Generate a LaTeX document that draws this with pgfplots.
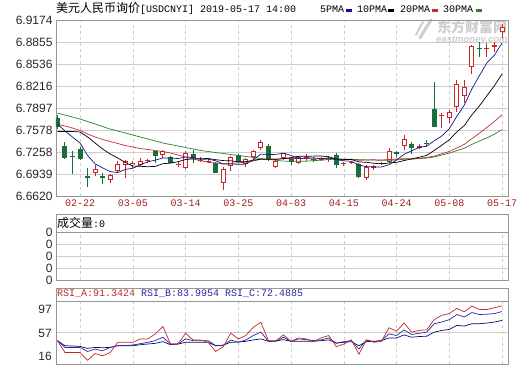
\documentclass[border=0pt]{standalone}
\usepackage{pgfplots}
\pgfplotsset{compat=1.18}
\usepackage{pgfplotstable}
\usepackage{fontspec}
\setmainfont{Liberation Sans}
\newfontfamily\cjk{Noto Sans CJK SC}
\newfontfamily\mono{Liberation Mono}
\definecolor{cred}{RGB}{200,40,40}
\definecolor{cgreen}{RGB}{25,110,60}
\definecolor{ma5}{RGB}{20,20,140}
\definecolor{ma20}{RGB}{190,50,50}
\definecolor{ma30}{RGB}{40,130,40}
\definecolor{datec}{RGB}{160,30,30}
\definecolor{gridc}{RGB}{205,205,205}
\definecolor{framec}{RGB}{150,150,150}
\definecolor{rsia}{RGB}{190,40,40}
\definecolor{rsib}{RGB}{40,40,160}
\definecolor{rsic}{RGB}{10,10,110}
\definecolor{wm}{RGB}{205,205,205}

\pgfplotstableread{
i o h l c
0 6.7752 6.7795 6.7592 6.7621
1 6.7346 6.7404 6.7157 6.7172
2 6.7203 6.7273 6.6939 6.7193
3 6.7302 6.7331 6.7142 6.7157
4 6.6903 6.7026 6.6751 6.6893
6 6.6906 6.6954 6.6794 6.6877
13 6.7269 6.7277 6.7099 6.7205
15 6.7182 6.7196 6.7099 6.7106
18 6.7230 6.7288 6.7095 6.7167
21 6.7103 6.7118 6.6949 6.6958
24 6.7215 6.7230 6.7109 6.7118
28 6.7346 6.7375 6.7132 6.7153
31 6.7167 6.7190 6.7070 6.7109
34 6.7157 6.7182 6.7109 6.7148
37 6.7215 6.7240 6.7022 6.7070
40 6.7080 6.7103 6.6877 6.6900
45 6.7253 6.7277 6.7190 6.7244
47 6.7370 6.7408 6.7225 6.7312
49 6.7389 6.7433 6.7335 6.7380
50 6.7878 6.8279 6.7617 6.7629
56 6.8768 6.8859 6.8641 6.8759
}\greentab

\pgfplotstableread{
i o h l c
5 6.6954 6.7066 6.6906 6.7016
7 6.6857 6.6939 6.6809 6.6929
8 6.6978 6.7124 6.6954 6.7084
9 6.7066 6.7147 6.6881 6.7124
10 6.7066 6.7124 6.7026 6.7099
11 6.7066 6.7172 6.7051 6.7132
14 6.7219 6.7292 6.7172 6.7277
17 6.7022 6.7277 6.7008 6.7248
22 6.6813 6.7045 6.6707 6.7008
23 6.7055 6.7201 6.6987 6.7182
25 6.7080 6.7167 6.7045 6.7153
26 6.7182 6.7288 6.7142 6.7277
27 6.7312 6.7433 6.7288 6.7408
29 6.7037 6.7153 6.7022 6.7128
30 6.7167 6.7248 6.7142 6.7240
32 6.7095 6.7201 6.7084 6.7190
36 6.7142 6.7201 6.7118 6.7176
41 6.6877 6.7070 6.6852 6.7045
44 6.7118 6.7317 6.7103 6.7277
46 6.7346 6.7505 6.7288 6.7447
52 6.7756 6.7868 6.7675 6.7835
53 6.7916 6.8303 6.7843 6.8245
54 6.8076 6.8303 6.7965 6.8197
55 6.8496 6.8811 6.8386 6.8801
59 6.9004 6.9112 6.8917 6.9077
}\redtab

\pgfplotstableread{
i o h l c
12 6.7134 6.7161 6.7099 6.7142
16 6.7076 6.7109 6.7045 6.7084
19 6.7138 6.7182 6.7109 6.7147
20 6.7124 6.7167 6.7095 6.7132
33 6.7177 6.7230 6.7132 6.7186
35 6.7153 6.7190 6.7132 6.7161
38 6.7090 6.7118 6.7055 6.7099
39 6.7105 6.7132 6.7084 6.7113
42 6.7041 6.7070 6.6997 6.7050
43 6.7090 6.7118 6.7070 6.7099
48 6.7331 6.7370 6.7302 6.7340
51 6.7787 6.7820 6.7602 6.7795
57 6.8759 6.8836 6.8641 6.8768
58 6.8797 6.8859 6.8714 6.8805
}\crosstab

\pgfplotstableread{
i m5 m10 m20 m30
0 6.7665 6.7556 6.7658 6.7824
1 6.7563 6.7556 6.7636 6.7795
2 6.7476 6.7556 6.7607 6.7766
3 6.7389 6.7549 6.7571 6.7737
4 6.7208 6.7476 6.7520 6.7701
5 6.7086 6.7389 6.7476 6.7665
6 6.7028 6.7302 6.7440 6.7628
7 6.6974 6.7230 6.7411 6.7592
8 6.6960 6.7172 6.7382 6.7563
9 6.7006 6.7106 6.7353 6.7534
10 6.7022 6.7054 6.7331 6.7505
11 6.7074 6.7051 6.7309 6.7476
12 6.7116 6.7045 6.7295 6.7447
13 6.7141 6.7050 6.7280 6.7418
14 6.7172 6.7089 6.7266 6.7389
15 6.7173 6.7097 6.7244 6.7367
16 6.7163 6.7118 6.7215 6.7346
17 6.7185 6.7150 6.7186 6.7324
18 6.7178 6.7158 6.7157 6.7302
19 6.7151 6.7161 6.7134 6.7280
20 6.7156 6.7164 6.7109 6.7266
21 6.7131 6.7147 6.7099 6.7251
22 6.7083 6.7134 6.7089 6.7237
23 6.7086 6.7131 6.7090 6.7222
24 6.7080 6.7115 6.7102 6.7208
25 6.7083 6.7119 6.7109 6.7193
26 6.7147 6.7140 6.7128 6.7179
27 6.7228 6.7155 6.7153 6.7164
28 6.7222 6.7154 6.7156 6.7150
29 6.7224 6.7151 6.7156 6.7139
30 6.7241 6.7163 6.7163 6.7126
31 6.7208 6.7177 6.7163 6.7125
32 6.7164 6.7196 6.7164 6.7125
33 6.7170 6.7196 6.7164 6.7125
34 6.7174 6.7199 6.7157 6.7134
35 6.7158 6.7200 6.7160 6.7139
36 6.7173 6.7190 6.7164 6.7150
37 6.7148 6.7155 6.7155 6.7154
38 6.7131 6.7151 6.7153 6.7154
39 6.7124 6.7150 6.7150 6.7154
40 6.7071 6.7115 6.7138 6.7147
41 6.7045 6.7109 6.7143 6.7144
42 6.7041 6.7095 6.7146 6.7141
43 6.7041 6.7086 6.7141 6.7138
44 6.7074 6.7099 6.7150 6.7138
45 6.7143 6.7108 6.7154 6.7143
46 6.7224 6.7134 6.7163 6.7154
47 6.7276 6.7158 6.7157 6.7157
48 6.7324 6.7183 6.7167 6.7163
49 6.7344 6.7209 6.7179 6.7170
50 6.7421 6.7282 6.7199 6.7186
51 6.7491 6.7357 6.7232 6.7215
52 6.7595 6.7436 6.7266 6.7243
53 6.7777 6.7550 6.7318 6.7278
54 6.7941 6.7643 6.7370 6.7314
55 6.8174 6.7798 6.7453 6.7369
56 6.8367 6.7929 6.7531 6.7418
57 6.8554 6.8076 6.7617 6.7463
58 6.8666 6.8222 6.7703 6.7518
59 6.8842 6.8391 6.7800 6.7583
}\matab

\pgfplotstableread{
i a b c
0 46.3 46.3 46.3
1 30.9 37.5 39.7
2 30.9 37.5 39.3
3 30.9 37.5 38.8
4 20.8 32.2 36.2
5 29.6 35.3 37.5
6 26.5 33.1 37.1
7 30.9 37.5 37.5
8 44.1 39.7 39.7
9 44.1 40.1 39.7
10 44.1 40.6 39.7
11 48.5 42.3 41.0
12 48.5 44.1 41.9
13 55.1 46.3 42.8
14 64.7 50.7 45.0
15 41.9 41.9 41.0
16 41.9 41.9 41.9
17 55.9 48.5 44.1
18 47.2 46.3 44.1
19 47.2 46.3 44.1
20 44.1 46.3 44.1
21 32.2 39.7 39.7
22 38.4 39.7 40.6
23 55.9 47.2 44.1
24 48.5 44.1 44.5
25 52.9 47.2 45.4
26 63.8 52.9 47.2
27 70.0 57.3 48.5
28 46.3 45.4 45.4
29 46.3 45.4 45.8
30 53.7 50.7 47.6
31 45.4 45.4 45.4
32 49.8 48.5 45.4
33 48.5 47.6 45.4
34 45.4 46.3 45.4
35 49.8 47.2 46.3
36 52.9 49.8 47.2
37 38.4 42.8 43.2
38 41.9 45.0 44.1
39 47.2 46.3 45.0
40 28.7 35.3 39.7
41 47.2 47.2 45.0
42 44.1 45.0 45.4
43 45.4 46.3 46.3
44 63.0 55.1 49.8
45 58.6 52.9 49.8
46 69.1 60.3 53.7
47 57.3 54.2 50.7
48 59.5 55.9 51.6
49 60.3 57.3 52.0
50 73.5 68.2 57.3
51 79.2 70.4 59.5
52 81.4 73.5 60.8
53 88.0 80.1 66.0
54 83.6 77.0 65.2
55 91.1 82.7 68.2
56 86.7 80.1 68.2
57 86.7 80.5 69.1
58 88.9 81.4 70.4
59 91.34 83.99 72.49
}\rsitab

\pgfplotsset{
  kpanel/.style={
    scale only axis, width=452pt,
    xmin=-0.19, xmax=59.79,
    axis line style={framec},
    tick style={draw=none},
    xtick={3,10,17,24,31,38,45,52,59},
    xmajorgrids, ymajorgrids,
    x grid style={gridc, dash pattern=on 3pt off 3pt},
    y grid style={gridc},
    yticklabel style={font=\fontsize{12}{12}\selectfont, text=black!85},
  },
  wickg/.style={draw=none, mark=none, forget plot,
    error bars/.cd, y dir=plus, y explicit, error mark=none,
    error bar style={solid, line cap=butt, line width=1pt, draw=cgreen}},
  wickr/.style={draw=none, mark=none, forget plot,
    error bars/.cd, y dir=plus, y explicit, error mark=none,
    error bar style={solid, line cap=butt, line width=1pt, draw=cred}},
  bodyg/.style={draw=none, mark=none, forget plot,
    error bars/.cd, y dir=both, y explicit, error mark=none,
    error bar style={solid, line cap=butt, line width=5pt, draw=cgreen}},
  bodyr/.style={draw=none, mark=none, forget plot,
    error bars/.cd, y dir=both, y explicit, error mark=none,
    error bar style={solid, line cap=butt, line width=5pt, draw=cred}},
  bodyw/.style={draw=none, mark=none, forget plot,
    error bars/.cd, y dir=both, y explicit, error mark=none,
    error bar style={solid, line cap=butt, line width=3pt, draw=white}},
}

\begin{document}
\begin{tikzpicture}[x=1pt,y=1pt]
\useasboundingbox (0,0) rectangle (520,365);

% title row
\node[anchor=base west, inner sep=0pt] at (56,352)
  {{\cjk\fontsize{12}{12}\selectfont 美元人民币询价}{\mono\fontsize{10}{12}\selectfont [USDCNYI] 2019-05-17 14:00}};
\node[anchor=base west, inner sep=0pt] at (320,352) {\mono\fontsize{10}{12}\selectfont 5PMA};
\fill[ma5] (346,353) rectangle (352,356);
\node[anchor=base west, inner sep=0pt] at (357,352) {\mono\fontsize{10}{12}\selectfont 10PMA};
\fill[black] (388,353) rectangle (394,356);
\node[anchor=base west, inner sep=0pt] at (400,352) {\mono\fontsize{10}{12}\selectfont 20PMA};
\fill[ma20] (432,353) rectangle (438,356);
\node[anchor=base west, inner sep=0pt] at (443,352) {\mono\fontsize{10}{12}\selectfont 30PMA};
\fill[ma30] (476,353) rectangle (482,356);

% watermark
\draw[wm, line width=3pt, line cap=round] (420,327) .. controls (424,334) and (428,340) .. (431,345);
\draw[wm, line width=2pt, line cap=round] (416,330) .. controls (419,336) and (421,340) .. (423,343);
\node[anchor=west, inner sep=0pt, text=wm] at (437,338)
  {\cjk\bfseries\fontsize{14}{14}\selectfont 东方财富网};
\node[anchor=west, inner sep=0pt, text=wm] at (436,325)
  {\bfseries\itshape\fontsize{9.5}{10}\selectfont eastmoney.com};

% main price panel
\begin{axis}[kpanel,
  at={(56pt,169pt)}, anchor=south west, height=176pt,
  ymin=6.6620, ymax=6.9174,
  ytick={6.6620,6.6939,6.7258,6.7578,6.7897,6.8216,6.8536,6.8855,6.9174},
  yticklabels={6.6620,6.6939,6.7258,6.7578,6.7897,6.8216,6.8536,6.8855,6.9174},
  xticklabels={02-22,03-05,03-14,03-25,04-03,04-15,04-24,05-08,05-17},
  xticklabel style={font=\mono\fontsize{10}{12}\selectfont, text=datec},
]
% wicks
\addplot[wickg] table[x=i, y=l, y error expr={\thisrow{h}-\thisrow{l}}] {\greentab};
\addplot[wickr] table[x=i, y=l, y error expr={\thisrow{h}-\thisrow{l}}] {\redtab};
\addplot[wickr] table[x=i, y=l, y error expr={\thisrow{h}-\thisrow{l}}] {\crosstab};
% bodies
\addplot[bodyg] table[x=i, y expr={(\thisrow{o}+\thisrow{c})/2},
  y error expr={max(abs(\thisrow{o}-\thisrow{c})/2,0.0004)}] {\greentab};
\addplot[bodyr] table[x=i, y expr={(\thisrow{o}+\thisrow{c})/2},
  y error expr={max(abs(\thisrow{o}-\thisrow{c})/2,0.0004)}] {\redtab};
\addplot[bodyw] table[x=i, y expr={(\thisrow{o}+\thisrow{c})/2},
  y error expr={max(abs(\thisrow{o}-\thisrow{c})/2-0.00145,0)}] {\redtab};
\addplot[bodyr] table[x=i, y expr={(\thisrow{o}+\thisrow{c})/2},
  y error expr={max(abs(\thisrow{o}-\thisrow{c})/2,0.0004)}] {\crosstab};
% moving averages
\addplot[ma30, line width=0.7pt] table[x=i, y=m30] {\matab};
\addplot[ma20, line width=0.7pt] table[x=i, y=m20] {\matab};
\addplot[black, line width=0.7pt] table[x=i, y=m10] {\matab};
\addplot[ma5, line width=0.7pt] table[x=i, y=m5] {\matab};
\end{axis}

% volume panel
\draw[framec] (56,133) rectangle (508,151);
\node[anchor=west, inner sep=0pt] at (57,142)
  {{\cjk\fontsize{12}{12}\selectfont 成交量}{\mono\fontsize{10}{12}\selectfont :0}};
\begin{axis}[kpanel,
  at={(56pt,85pt)}, anchor=south west, height=48pt,
  ymin=0, ymax=4, ytick={0,1,2,3,4},
  yticklabels={0,0,0,0,0},
  xticklabels={},
]
\addplot[draw=none, forget plot] coordinates {(0,0) (59,0)};
\end{axis}

% RSI panel
\draw[framec] (56,63.5) rectangle (508,77);
\node[anchor=west, inner sep=0pt] at (57,71)
  {\mono\fontsize{10}{12}\selectfont\textcolor{rsia}{RSI\_A:91.3424} \textcolor{rsib}{RSI\_B:83.9954} \textcolor{rsib}{RSI\_C:72.4885}};
\begin{axis}[kpanel,
  at={(56pt,1pt)}, anchor=south west, height=62.5pt,
  ymin=16, ymax=97, ytick={57},
  yticklabels={},
  xticklabels={},
]
\addplot[rsic, line width=0.7pt] table[x=i, y=c] {\rsitab};
\addplot[rsib, line width=0.7pt] table[x=i, y=b] {\rsitab};
\addplot[rsia, line width=0.7pt] table[x=i, y=a] {\rsitab};
\end{axis}
\node[anchor=east, inner sep=0pt, text=black!85] at (52,56) {\fontsize{12}{12}\selectfont 97};
\node[anchor=east, inner sep=0pt, text=black!85] at (52,32) {\fontsize{12}{12}\selectfont 57};
\node[anchor=east, inner sep=0pt, text=black!85] at (52,9) {\fontsize{12}{12}\selectfont 16};
\end{tikzpicture}
\end{document}
